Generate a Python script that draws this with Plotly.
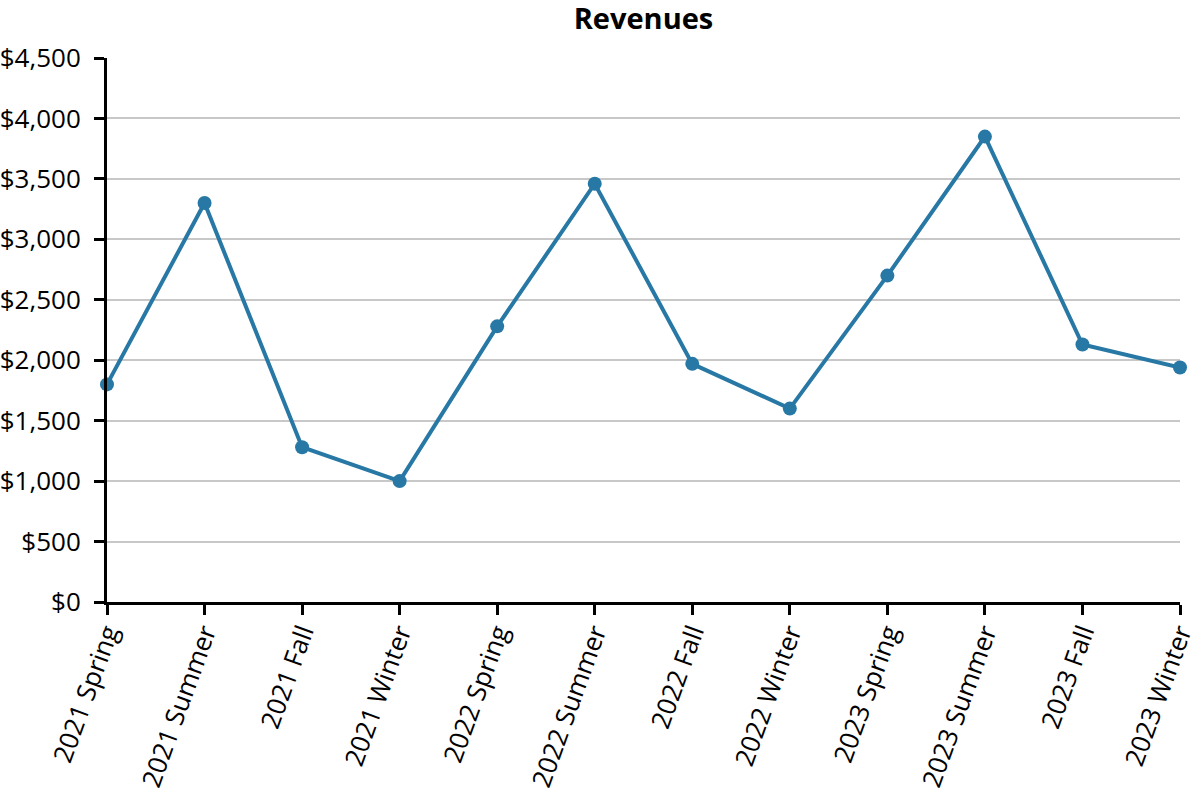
import plotly.graph_objects as go

# seasonal revenue
seasons = [
    "2021 Spring", "2021 Summer", "2021 Fall", "2021 Winter",
    "2022 Spring", "2022 Summer", "2022 Fall", "2022 Winter",
    "2023 Spring", "2023 Summer", "2023 Fall", "2023 Winter",
]
revenues = [1800, 3300, 1280, 1000, 2280, 3460, 1970, 1600, 2700, 3850, 2130, 1940]

y_ticks = [0, 500, 1000, 1500, 2000, 2500, 3000, 3500, 4000, 4500]
y_labels = ["$0", "$500", "$1,000", "$1,500", "$2,000", "$2,500",
            "$3,000", "$3,500", "$4,000", "$4,500"]

blue = "#2878a5"

fig = go.Figure()
fig.add_trace(
    go.Scatter(
        x=seasons,
        y=revenues,
        mode="lines+markers",
        line=dict(color=blue, width=4),
        marker=dict(color=blue, size=14),
        cliponaxis=False,
        showlegend=False,
    )
)

fig.update_layout(
    width=1200,
    height=796,
    paper_bgcolor="white",
    plot_bgcolor="white",
    font=dict(family="Open Sans", size=26, color="black"),
    title=dict(
        text="<b>Revenues</b>",
        x=643.5 / 1200,
        xanchor="center",
        y=1 - 19 / 796,
        yanchor="middle",
        font=dict(size=29),
    ),
    margin=dict(l=107, r=20, t=58, b=194),
)

fig.update_xaxes(
    range=[0, len(seasons) - 1],
    tickangle=-70,
    automargin=False,
    ticklabelstandoff=-8,
    showgrid=False,
    showline=True,
    linecolor="black",
    linewidth=3,
    ticks="outside",
    ticklen=10,
    tickwidth=3,
    tickcolor="black",
)

fig.update_yaxes(
    range=[0, 4500],
    tickvals=y_ticks,
    ticktext=y_labels,
    automargin=False,
    ticklabelstandoff=8,
    showgrid=True,
    gridcolor="#c8c8c8",
    gridwidth=1.5,
    showline=True,
    linecolor="black",
    linewidth=3,
    ticks="outside",
    ticklen=10,
    tickwidth=3,
    tickcolor="black",
    zeroline=False,
)

# drop the default 8px body margin so the figure sits in the corner of the page
fig.write_html(
    "out.html",
    config={"displayModeBar": False},
    post_script="document.body.style.margin = '0';",
)
